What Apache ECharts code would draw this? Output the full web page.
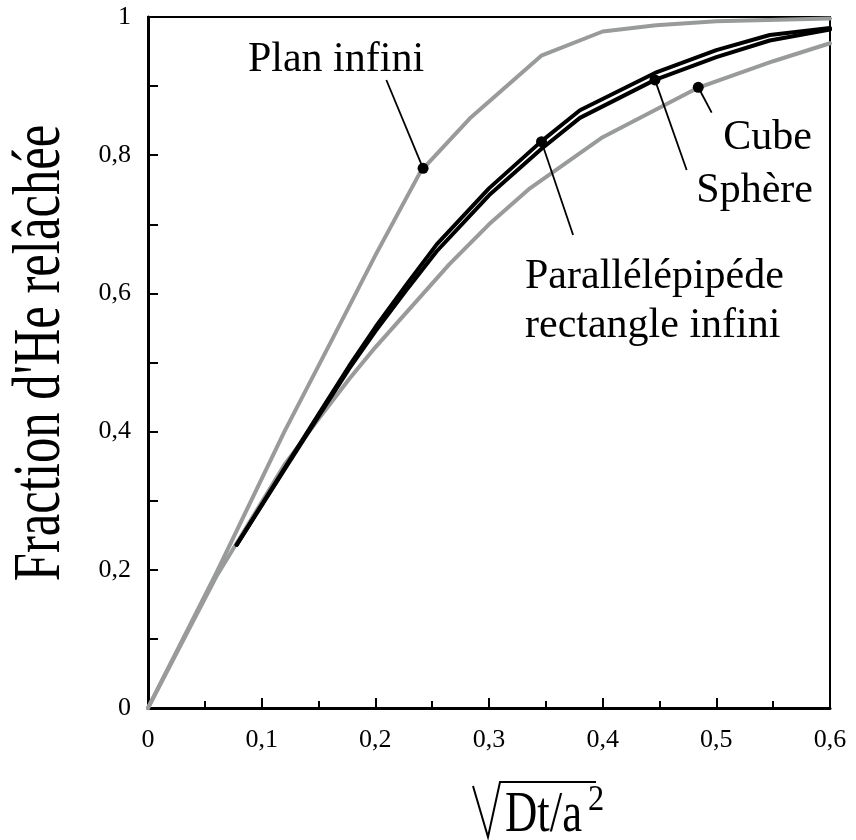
<!DOCTYPE html>
<html>
<head>
<meta charset="utf-8">
<script src="https://cdn.jsdelivr.net/npm/echarts@6/dist/echarts.min.js"></script>
<style>html,body{margin:0;padding:0;background:#fff}#c{width:856px;height:840px}</style>
</head>
<body>
<div id="c"></div>
<script>
// ---- data ----
const xTicks = [0, 0.1, 0.2, 0.3, 0.4, 0.5, 0.6];
const yTicks = [0, 0.2, 0.4, 0.6, 0.8, 1];

// Plan infini (upper grey curve)
const planX = [0, 0.06, 0.12, 0.16, 0.2, 0.24, 0.283, 0.346, 0.4, 0.447, 0.5, 0.6];
const planY = [0, 0.195, 0.40, 0.527, 0.655, 0.777, 0.853, 0.944, 0.979, 0.988, 0.994, 0.998];

// Parallélépipède rectangle infini (upper black curve)
const paraX = [0.078, 0.122, 0.15, 0.177, 0.2, 0.227, 0.254, 0.3, 0.346, 0.38, 0.446, 0.5, 0.547, 0.6];
const paraY = [0.236, 0.352, 0.425, 0.495, 0.551, 0.612, 0.671, 0.752, 0.82, 0.865, 0.919, 0.952, 0.974, 0.984];

// Sphère (lower black curve)
const sphX = [0.078, 0.122, 0.15, 0.177, 0.2, 0.227, 0.254, 0.3, 0.346, 0.38, 0.446, 0.5, 0.547, 0.6];
const sphY = [0.236, 0.350, 0.422, 0.491, 0.545, 0.604, 0.661, 0.742, 0.809, 0.854, 0.909, 0.942, 0.966, 0.982];

// Cube (lower grey curve)
const cubeX = [0, 0.06, 0.12, 0.15, 0.177, 0.2, 0.265, 0.3, 0.336, 0.4, 0.483, 0.55, 0.6];
const cubeY = [0, 0.19, 0.352, 0.418, 0.476, 0.522, 0.642, 0.70, 0.752, 0.826, 0.897, 0.936, 0.962];

// annotation pointers: [label end, dot on curve]
const ptrPlan = [[0.2097, 0.9088], [0.242, 0.781]];
const ptrPara = [[0.374, 0.6845], [0.3462, 0.8195]];
const ptrSph  = [[0.4739, 0.7786], [0.446, 0.909]];
const ptrCube = [[0.4959, 0.8615], [0.4841, 0.8983]];

const zip = (xs, ys) => xs.map((x, i) => [x, ys[i]]);
const fmt = v => {
  const r = Math.round(v * 10) / 10;
  if (r === 0) return '0';
  if (r === 1) return '1';
  return r.toFixed(1).replace('.', ',');
};
const SERIF = '"Liberation Serif", "Times New Roman", serif';
const GREY = '#999b9b';

function curve(name, xs, ys, color) {
  return {
    name, type: 'line', data: zip(xs, ys), symbol: 'none', smooth: false,
    lineStyle: { color, width: 4, join: 'round', cap: 'round' }, z: color === '#000' ? 4 : 3,
    animation: false
  };
}
function pointer(p) {
  return {
    type: 'line', animation: false, z: 6,
    data: [
      { value: p[0], symbol: 'none' },
      { value: p[1], symbol: 'circle', symbolSize: 11 }
    ],
    showSymbol: true,
    lineStyle: { color: '#000', width: 1.8 },
    itemStyle: { color: '#000', borderWidth: 0 }
  };
}

const chart = echarts.init(document.getElementById('c'), null, { renderer: 'canvas' });
chart.setOption({
  backgroundColor: '#fff',
  animation: false,
  grid: { left: 148, right: 26, top: 17, bottom: 132, show: true, borderColor: '#000', borderWidth: 2, backgroundColor: 'transparent' },
  xAxis: {
    type: 'value', min: xTicks[0], max: xTicks[xTicks.length - 1], interval: 0.1,
    axisLine: { show: true, onZero: false, lineStyle: { color: '#000', width: 3 } },
    axisTick: { show: true, inside: true, length: 10, lineStyle: { color: '#000', width: 2 } },
    minorTick: { show: true, splitNumber: 2, length: 7, lineStyle: { color: '#000', width: 2 } },
    splitLine: { show: false },
    axisLabel: { margin: 19, fontSize: 26, fontFamily: SERIF, color: '#000', formatter: fmt }
  },
  yAxis: {
    type: 'value', min: yTicks[0], max: yTicks[yTicks.length - 1], interval: 0.1,
    axisLine: { show: true, onZero: false, lineStyle: { color: '#000', width: 3 } },
    axisTick: { show: true, inside: true, length: 10, lineStyle: { color: '#000', width: 2 } },
    splitLine: { show: false },
    axisLabel: {
      margin: 17, fontSize: 26, fontFamily: SERIF, color: '#000',
      formatter: v => (Math.round(v * 10) % 2 === 0 ? fmt(v) : '')
    }
  },
  series: [
    curve('Plan infini', planX, planY, GREY),
    curve('Cube', cubeX, cubeY, GREY),
    curve('Parallélépipède rectangle infini', paraX, paraY, '#000'),
    curve('Sphère', sphX, sphY, '#000'),
    pointer(ptrPlan), pointer(ptrPara), pointer(ptrSph), pointer(ptrCube)
  ],
  graphic: [
    { type: 'text', x: 41, y: 353, rotation: Math.PI / 2, scaleX: 0.745, z: 10,
      style: { text: "Fraction d'He relâchée", fontSize: 68, fontFamily: SERIF, fill: '#000', align: 'center', verticalAlign: 'middle' } },
    { type: 'polyline', z: 10, shape: { points: [[473, 786], [488, 837], [500, 782], [596, 782]] },
      style: { stroke: '#000', lineWidth: 2, fill: null } },
    { type: 'text', x: 505, y: 816.5, scaleX: 0.8, z: 10,
      style: { text: 'Dt/a', fontSize: 56, fontFamily: SERIF, fill: '#000', align: 'left', verticalAlign: 'middle' } },
    { type: 'text', x: 588, y: 801, scaleX: 0.9, z: 10,
      style: { text: '2', fontSize: 36, fontFamily: SERIF, fill: '#000', align: 'left', verticalAlign: 'middle' } },
    { type: 'text', x: 336, y: 59.5, z: 10,
      style: { text: 'Plan infini', fontSize: 42, fontFamily: SERIF, fill: '#000', align: 'center', verticalAlign: 'middle' } },
    { type: 'text', x: 812, y: 137.5, z: 10,
      style: { text: 'Cube', fontSize: 42, fontFamily: SERIF, fill: '#000', align: 'right', verticalAlign: 'middle' } },
    { type: 'text', x: 813, y: 190.5, z: 10,
      style: { text: 'Sphère', fontSize: 42, fontFamily: SERIF, fill: '#000', align: 'right', verticalAlign: 'middle' } },
    { type: 'text', x: 525, y: 277, z: 10,
      style: { text: 'Parallélépipéde', fontSize: 42, fontFamily: SERIF, fill: '#000', align: 'left', verticalAlign: 'middle' } },
    { type: 'text', x: 525, y: 325.5, z: 10,
      style: { text: 'rectangle infini', fontSize: 42, fontFamily: SERIF, fill: '#000', align: 'left', verticalAlign: 'middle' } }
  ]
});
</script>
</body>
</html>
